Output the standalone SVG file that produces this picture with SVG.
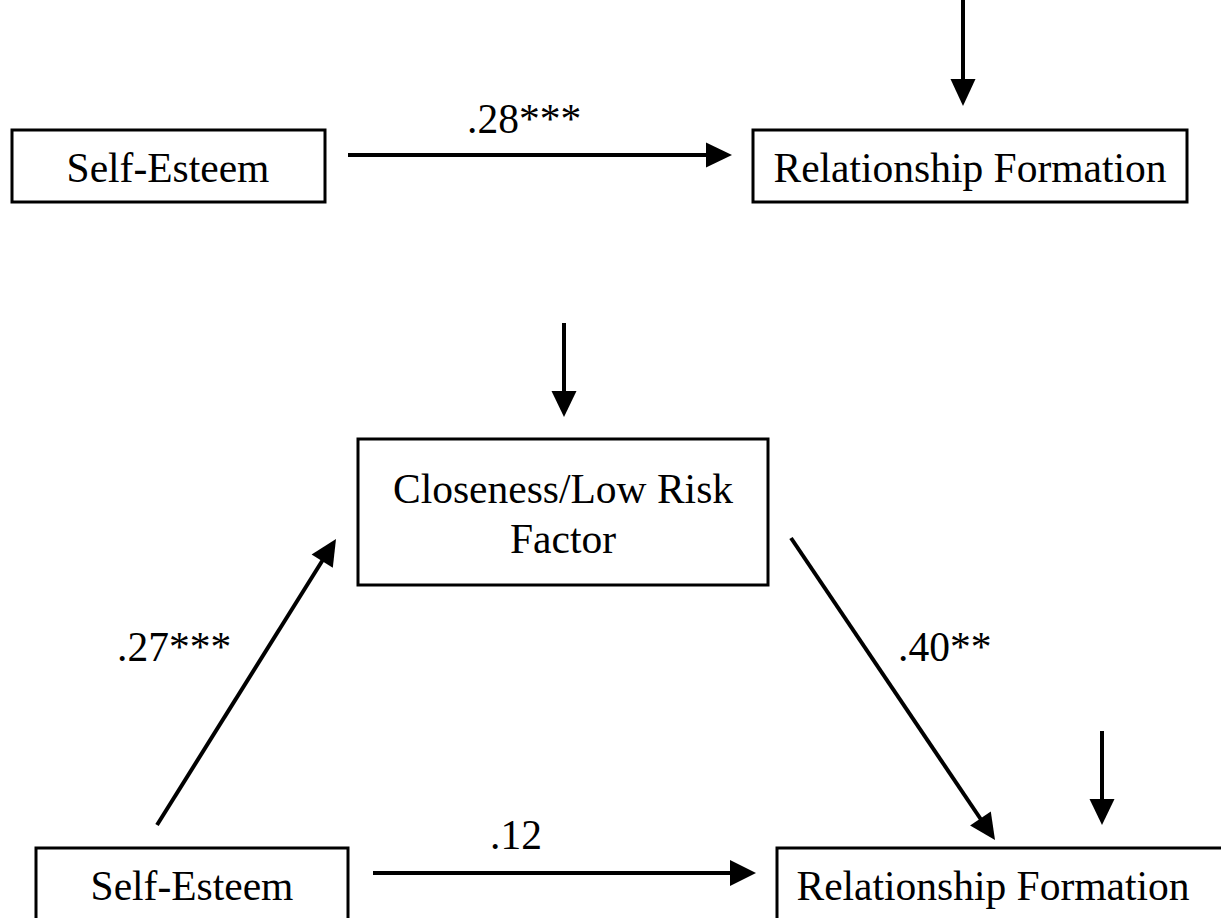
<svg xmlns="http://www.w3.org/2000/svg" width="1221" height="918" viewBox="0 0 1221 918">
<style>
.box{fill:#fff;stroke:#000;stroke-width:3}
.t{font-family:"Liberation Serif","Times New Roman",serif;font-size:41.5px;fill:#000}
.c{text-anchor:middle}
.e{stroke:#000;stroke-width:4;fill:none}
.h{fill:#000;stroke:none}
</style>
<rect width="1221" height="918" fill="#fff"/>
<g id="connectors">
<line class="e" x1="348" y1="155" x2="710" y2="155"/>
<polygon class="h" points="732,155 706,142.5 706,167.5"/>
<line class="e" x1="963" y1="0" x2="963" y2="83"/>
<polygon class="h" points="963,106 950.5,79 975.5,79"/>
<line class="e" x1="564" y1="323" x2="564" y2="395"/>
<polygon class="h" points="564,417 551.5,391 576.5,391"/>
<line class="e" x1="157" y1="825" x2="324" y2="558"/>
<polygon class="h" points="336,539 332.8,567.7 311.6,554.4"/>
<line class="e" x1="791" y1="538" x2="982" y2="821"/>
<polygon class="h" points="995,840 990.8,811.5 970.1,825.5"/>
<line class="e" x1="1102" y1="731" x2="1102" y2="803"/>
<polygon class="h" points="1102,825 1089.5,799 1114.5,799"/>
<line class="e" x1="373" y1="873" x2="734" y2="873"/>
<polygon class="h" points="756,873 730,860 730,886"/>
<text class="t" x="467" y="133">.28***</text>
<text class="t" x="117" y="661">.27***</text>
<text class="t" x="898" y="661">.40**</text>
<text class="t" x="490" y="849">.12</text>
</g>
<g id="self-esteem-1">
<rect class="box" x="12" y="130" width="313" height="72"/>
<text class="t c" x="168" y="182">Self-Esteem</text>
</g>
<g id="relationship-formation-1">
<rect class="box" x="753" y="130" width="434" height="72"/>
<text class="t c" x="970" y="182">Relationship Formation</text>
</g>
<g id="closeness">
<rect class="box" x="358" y="439" width="410" height="146"/>
<text class="t c" x="563" y="503">Closeness/Low Risk</text>
<text class="t c" x="563" y="553">Factor</text>
</g>
<g id="self-esteem-2">
<rect class="box" x="36" y="848" width="312" height="90"/>
<text class="t c" x="192" y="900">Self-Esteem</text>
</g>
<g id="relationship-formation-2">
<rect class="box" x="777" y="848" width="460" height="90"/>
<text class="t c" x="993" y="900">Relationship Formation</text>
</g>
</svg>
